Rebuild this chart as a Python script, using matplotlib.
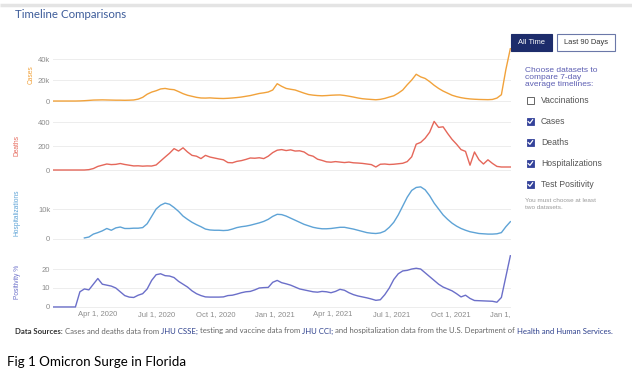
import numpy as np
import pandas as pd
import matplotlib
matplotlib.use('Agg')
import matplotlib.pyplot as plt
from matplotlib.patches import Rectangle
from matplotlib.transforms import Bbox

# ~weekly 7-day averages, Florida, Jan 22 2020 -> Jan 2 2022
dates = pd.date_range('2020-01-22', '2022-01-02', periods=103)

cases_k = [0, 0, 0, 0, 0, 0, 0.1, 0.3, 0.6, 0.9,
           1.0, 1.1, 1.0, 0.9, 0.8, 0.8, 0.7, 0.8, 1.0, 1.8,
           3.5, 6.5, 8.5, 9.8, 11.5, 12.0, 11.2, 10.8, 9.0, 7.0,
           5.5, 4.5, 3.5, 2.9, 2.8, 3.0, 2.7, 2.5, 2.4, 2.6,
           2.9, 3.3, 3.8, 4.5, 5.2, 6.2, 7.2, 7.8, 8.6, 10.5,
           16.5, 14.0, 12.0, 11.2, 10.5, 9.0, 7.5, 6.2, 5.6, 5.2,
           5.0, 5.2, 5.5, 5.7, 5.8, 5.3, 4.6, 3.8, 2.9, 2.2,
           1.8, 1.5, 1.2, 1.6, 2.5, 3.8, 5.0, 7.5, 10.5, 15.5,
           20.0, 25.5, 23.0, 21.5, 18.5, 15.0, 12.0, 9.5, 7.5, 5.5,
           4.2, 3.2, 2.5, 2.0, 1.7, 1.5, 1.4, 1.3, 1.5, 2.8,
           6.0, 30.0, 50.0]

deaths = [0, 0, 0, 0, 0, 0, 0, 0, 3, 12,
          30, 40, 50, 45, 47, 54, 46, 40, 34, 35,
          32, 34, 33, 42, 75, 108, 140, 178, 158, 185,
          150, 122, 115, 95, 122, 108, 100, 92, 85, 62,
          60, 72, 78, 88, 100, 98, 102, 95, 115, 145,
          165, 170, 162, 168, 158, 160, 150, 125, 115, 90,
          80, 68, 65, 70, 66, 62, 66, 60, 58, 55,
          50, 45, 25, 48, 50, 46, 48, 52, 56, 70,
          110, 215, 230, 265, 315, 405, 355, 360, 305, 255,
          215, 170, 155, 40, 150, 85, 50, 85, 55, 30,
          25, 25, 25]

hosp_k = [np.nan, np.nan, np.nan, np.nan, np.nan, np.nan, np.nan, 0.2, 0.5, 1.5,
          2.0, 2.6, 3.4, 2.8, 3.6, 3.9, 3.4, 3.4, 3.5, 3.5,
          3.7, 5.0, 7.5, 10.0, 11.3, 12.0, 11.6, 10.5, 9.2, 7.6,
          6.5, 5.5, 4.7, 4.0, 3.2, 2.9, 2.8, 2.8, 2.7, 2.8,
          3.2, 3.7, 4.0, 4.2, 4.5, 4.9, 5.3, 5.8, 6.5, 7.5,
          8.2, 8.1, 7.6, 6.9, 6.2, 5.5, 4.8, 4.3, 3.8, 3.5,
          3.3, 3.3, 3.4, 3.6, 3.8, 3.8, 3.5, 3.2, 2.8, 2.4,
          2.0, 1.8, 1.7, 1.9, 2.5, 3.8, 5.5, 8.0, 11.0, 14.0,
          16.3, 17.3, 17.5, 16.5, 14.5, 12.0, 10.0, 8.0, 6.5, 5.2,
          4.2, 3.4, 2.8, 2.3, 2.0, 1.7, 1.6, 1.5, 1.5, 1.6,
          2.0, 4.0, 5.7]

positivity = [0, 0, 0, 0, 0, 0, 8, 9.5, 9, 12,
              15, 12, 11.5, 11, 10, 8, 6, 5.2, 5, 6.2,
              7, 9.5, 14, 17, 17.5, 16.5, 16.3, 15.5, 13.5, 12,
              10.5, 8.5, 7, 6, 5.3, 5.2, 5.2, 5.2, 5.3, 6,
              6.2, 6.8, 7.5, 8, 8.2, 9, 10, 10.2, 10.3, 13,
              14, 12.8, 12.2, 11.5, 10.5, 9.5, 9, 8.5, 8, 7.8,
              8.2, 8, 7.5, 8.2, 9.3, 8.8, 7.5, 6.5, 5.8, 5.3,
              4.8, 4.2, 3.5, 3.8, 6.5, 10, 14.5, 17.5, 19, 19.3,
              20.0, 20.4, 20.0, 18.0, 16, 14, 12, 10.5, 9.5, 8.5,
              7, 5.3, 6.2, 4.5, 3.4, 3.3, 3.2, 3.1, 3.0, 2.5,
              5, 16, 27]

x_ticks = pd.to_datetime(['2020-04-01', '2020-07-01', '2020-10-01', '2021-01-01',
                          '2021-04-01', '2021-07-01', '2021-10-01', '2022-01-01'])
x_labels = ['Apr 1, 2020', 'Jul 1, 2020', 'Oct 1, 2020', 'Jan 1, 2021',
            'Apr 1, 2021', 'Jul 1, 2021', 'Oct 1, 2021', 'Jan 1, 2022']

datasets = ['Vaccinations', 'Cases', 'Deaths', 'Hospitalizations', 'Test Positivity']
checked = [False, True, True, True, True]

W, H = 632, 374
fig = plt.figure(figsize=(W / 100, H / 100), dpi=100)
plt.rcParams['font.family'] = ['Liberation Sans', 'DejaVu Sans']


def px_axes(x0, y0, x1, y1):
    return fig.add_axes([x0 / W, 1 - y1 / H, (x1 - x0) / W, (y1 - y0) / H])


tick_col = '#8c8c8c'
# series, colour, label, (top px, bottom px), ylim, ticks, tick labels, label x
panels = [
    (cases_k, '#f1a23b', 'Cases', (47.5, 102.6), (-1.5, 51), [0, 20, 40], ['0', '20k', '40k'], -0.040),
    (deaths, '#e5675a', 'Deaths', (119.6, 171.2), (-10, 420), [0, 200, 400], ['0', '200', '400'], -0.070),
    (hosp_k, '#5ea3d6', 'Hospitalizations', (184.8, 239.7), (-0.4, 18.2), [0, 10], ['0', '10k'], -0.070),
    (positivity, '#6b6fc9', 'Positivity %', (254.8, 308.1), (-0.6, 27.5), [0, 10, 20], ['0', '10', '20'], -0.070),
]

axes = []
for vals, col, lab, (top, bot), ylim, yt, ytl, lx in panels:
    ax = px_axes(53, top, 511, bot)
    ax.plot(dates, vals, color=col, lw=1.0, zorder=3)
    ax.set_xlim(pd.Timestamp('2020-01-22'), pd.Timestamp('2022-01-03'))
    ax.set_ylim(*ylim)
    ax.set_yticks(yt)
    ax.set_yticklabels(ytl)
    ax.grid(axis='y', color='#ededed', lw=0.7)
    ax.set_axisbelow(True)
    for s in ax.spines.values():
        s.set_visible(False)
    ax.tick_params(length=0, labelsize=5.5, labelcolor=tick_col, pad=2)
    ax.set_ylabel(lab, color=col, fontsize=4.8)
    ax.yaxis.set_label_coords(lx, 0.5)
    ax.set_xticks(x_ticks)
    ax.set_xticklabels(x_labels)
    axes.append(ax)

for ax in axes[:-1]:
    ax.tick_params(axis='x', labelbottom=False)
clip = Bbox.from_extents(0, 0, 511, H)
for t in axes[-1].get_xticklabels():
    t.set_clip_on(True)
    t.set_clip_box(clip)

# page furniture, drawn in pixel coordinates
ov = fig.add_axes([0, 0, 1, 1], zorder=10)
ov.set_xlim(0, W)
ov.set_ylim(H, 0)
ov.axis('off')

ov.plot([0, W], [5, 5], color='#e4e4e4', lw=2.5, solid_capstyle='butt')
ov.text(15, 14, 'Timeline Comparisons', color='#3d5c9a', fontsize=8.3,
        family=['Lato', 'DejaVu Sans'], va='center', ha='left')

# buttons
ov.add_patch(Rectangle((511, 33.5), 40.5, 17.5, facecolor='#1d2c6b', edgecolor='#1d2c6b', lw=0.8))
ov.text(531.2, 42.3, 'All Time', color='white', fontsize=5.4, ha='center', va='center')
ov.add_patch(Rectangle((557, 33.5), 58, 17.5, facecolor='white', edgecolor='#6b78a8', lw=0.8))
ov.text(586, 42.3, 'Last 90 Days', color='#333333', fontsize=5.4, ha='center', va='center')

ov.text(525, 67, 'Choose datasets to\ncompare 7-day\naverage timelines:', color='#5d5fb3',
        fontsize=6, ha='left', va='top', linespacing=0.95)

for k, (name, on) in enumerate(zip(datasets, checked)):
    cy = 100.5 + k * 21
    if on:
        ov.add_patch(Rectangle((526.5, cy - 3.8), 7.6, 7.6, facecolor='#34429a', edgecolor='#34429a', lw=0.6))
        ov.plot([528.2, 529.9, 532.6], [cy + 0.1, cy + 1.8, cy - 1.8], color='white', lw=0.9)
    else:
        ov.add_patch(Rectangle((526.5, cy - 3.8), 7.6, 7.6, facecolor='white', edgecolor='#666666', lw=0.7))
    ov.text(541, cy, name, color='#555555', fontsize=6.2, ha='left', va='center')

ov.text(525, 197.5, 'You must choose at least\ntwo datasets.', color='#9a9a9a', fontsize=4.6,
        ha='left', va='top', linespacing=1.7)

# data sources line, pieces laid out one after another
runs = [('Data Sources:', 'bold', '#333333'),
        ('Cases and deaths data from', 'normal', '#666666'),
        ('JHU CSSE;', 'normal', '#2c3f8c'),
        ('testing and vaccine data from', 'normal', '#666666'),
        ('JHU CCI;', 'normal', '#2c3f8c'),
        ('and hospitalization data from the U.S. Department of', 'normal', '#666666'),
        ('Health and Human Services.', 'normal', '#2c3f8c')]
renderer = fig.canvas.get_renderer()
xpos = 15
for txt, wt, col in runs:
    t = ov.text(xpos, 331, txt, color=col, fontsize=5.6, fontweight=wt, ha='left', va='center',
                family=['Lato', 'DejaVu Sans'])
    xpos += t.get_window_extent(renderer).width + 2.0

ov.text(7, 362, 'Fig 1 Omicron Surge in Florida', color='black', fontsize=9.6, ha='left', va='center',
        family=['Lato', 'DejaVu Sans'])

fig.savefig('out.png', dpi=100)
